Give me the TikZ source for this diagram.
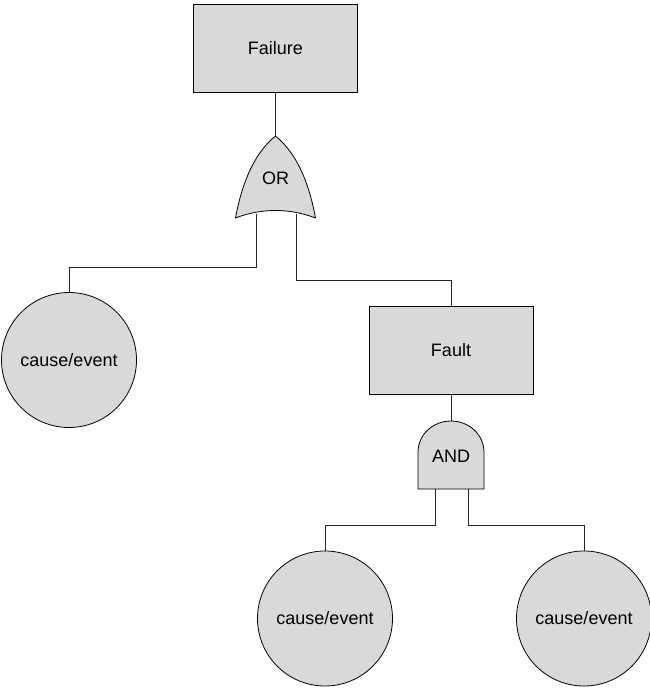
\documentclass[tikz,border=0pt]{standalone}
\usepackage{fontspec}
\setmainfont{Liberation Sans}
\definecolor{shade}{HTML}{D9D9D9}
\definecolor{wire}{HTML}{222222}
\begin{document}
\begin{tikzpicture}[x=1pt,y=-1pt,
  every node/.style={font=\fontsize{18}{21}\selectfont},
  eventbox/.style={draw=black,fill=shade,line width=1pt,minimum width=164pt,minimum height=88pt,inner sep=0pt},
  causecircle/.style={circle,draw=black,fill=shade,line width=0.8pt,minimum size=135pt,inner sep=0pt},
  gate/.style={draw=black,fill=shade,line width=0.8pt,line join=round},
  wire/.style={draw=wire,line width=1pt}]
\useasboundingbox (0,0) rectangle (650,688);

% events
\node[eventbox] (failure) at (275.5,48) {Failure};
\node[eventbox] (fault) at (451,350) {Fault};
\node[causecircle] (c1) at (69,360) {cause/event};
\node[causecircle] (c2) at (325,618.5) {cause/event};
\node[causecircle] (c3) at (584,618.5) {cause/event};

% gate terminals and wire levels
\coordinate (orout) at (275.5,136);
\coordinate (orin1) at (256,214);
\coordinate (orin2) at (296,214);
\coordinate (andout) at (451,421);
\coordinate (andin1) at (435,487);
\coordinate (andin2) at (468,487);
\coordinate (lvl1) at (0,267);
\coordinate (lvl2) at (0,280);
\coordinate (lvl3) at (0,525);

% connectors
\draw[wire] (failure.south) -- (orout);
\draw[wire] (orin1) -- (orin1 |- lvl1) -- (c1.north |- lvl1) -- (c1.north);
\draw[wire] (orin2) -- (orin2 |- lvl2) -- (fault.north |- lvl2) -- (fault.north);
\draw[wire] (fault.south) -- (andout);
\draw[wire] (andin1) -- (andin1 |- lvl3) -- (c2.north |- lvl3) -- (c2.north);
\draw[wire] (andin2) -- (andin2 |- lvl3) -- (c3.north |- lvl3) -- (c3.north);

% OR gate
\draw[gate] (235.5,218) .. controls (241,188) and (252,155) .. (275.5,136)
  .. controls (299,155) and (310,188) .. (315.5,218)
  .. controls (290,208) and (261,208) .. cycle;
\node (ortext) at (275.5,178) {OR};

% AND gate
\draw[gate] (418,489) -- (418,452) arc[start angle=180,end angle=360,x radius=33,y radius=31] -- (484,489) -- cycle;
\node (andtext) at (451,456) {AND};
\end{tikzpicture}
\end{document}
